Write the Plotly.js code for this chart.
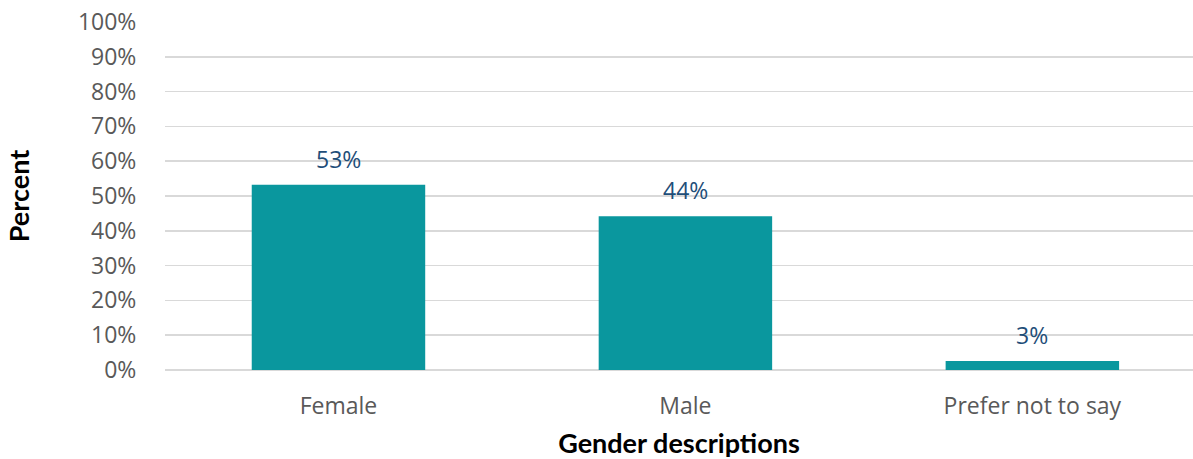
<!DOCTYPE html>
<html>
<head>
<meta charset="utf-8">
<script src="https://cdn.plot.ly/plotly-3.0.1.min.js"></script>
<style>html,body{margin:0;padding:0;background:#fff;}#chart{width:1193px;height:459px;}</style>
</head>
<body>
<div id="chart"></div>
<script>
const categories = ["Female", "Male", "Prefer not to say"];
const percentValues = [53.2, 44.2, 2.6];
const labelTexts = ["53%", "44%", "3%"];
const yTickValues = [0, 10, 20, 30, 40, 50, 60, 70, 80, 90, 100];
const yTickLabels = ["0%", "10%", "20%", "30%", "40%", "50%", "60%", "70%", "80%", "90%", "100%"];

const trace = {
  type: "bar",
  x: categories,
  y: percentValues,
  width: 0.5,
  marker: {color: "#0A979E"},
  hoverinfo: "skip"
};

const annotations = categories.map((c, i) => ({
  x: c, y: percentValues[i], xref: "x", yref: "y",
  text: labelTexts[i], showarrow: false,
  yanchor: "bottom", yshift: 8,
  font: {family: "Open Sans, sans-serif", size: 23, color: "#1F4E79"}
}));

const layout = {
  width: 1193, height: 459,
  margin: {l: 165, r: 0, t: 22, b: 89},
  paper_bgcolor: "#fff", plot_bgcolor: "#fff",
  showlegend: false,
  font: {family: "Open Sans, sans-serif", color: "#595959", size: 23},
  xaxis: {
    range: [-0.5, 2.463],
    showgrid: false, zeroline: false, showline: false,
    ticks: "outside", ticklen: 0, tickcolor: "rgba(0,0,0,0)",
    ticklabelstandoff: 15,
    tickfont: {size: 23, color: "#595959"},
    title: {text: "<b>Gender descriptions</b>", standoff: 17,
            font: {family: "Lato, sans-serif", size: 27, color: "#000"}}
  },
  yaxis: {
    range: [0, 100],
    tickvals: yTickValues, ticktext: yTickLabels,
    showgrid: true, gridcolor: "#D9D9D9", gridwidth: 1.5,
    zeroline: true, zerolinecolor: "#D9D9D9", zerolinewidth: 1.5,
    showline: false,
    ticks: "outside", ticklen: 0, tickcolor: "rgba(0,0,0,0)",
    ticklabelstandoff: 23,
    tickfont: {size: 23, color: "#595959"},
    title: {text: "<b>Percent</b>", standoff: 40,
            font: {family: "Lato, sans-serif", size: 27, color: "#000"}}
  },
  annotations: annotations
};

Plotly.newPlot("chart", [trace], layout, {displayModeBar: false, staticPlot: true});
</script>
</body>
</html>
